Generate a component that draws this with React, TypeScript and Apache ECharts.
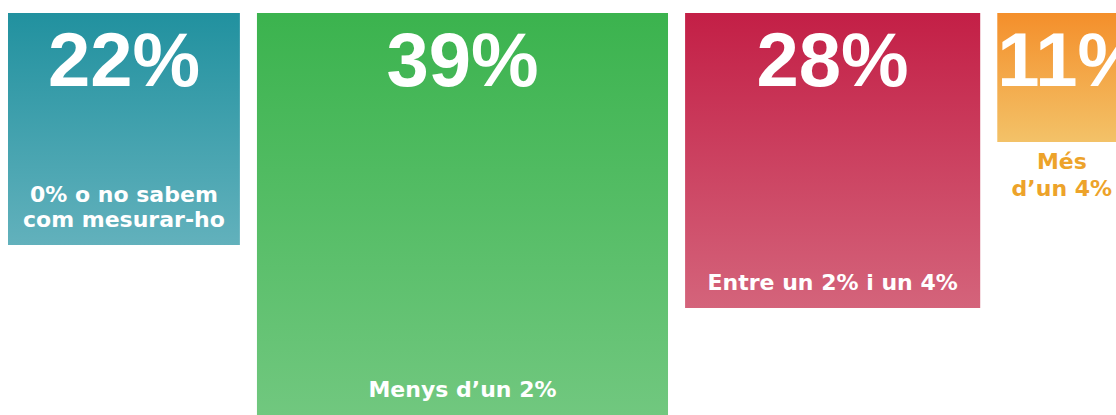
import React, { useEffect, useRef } from "react";
import * as echarts from "echarts";

const categories = ["0% o no sabem\ncom mesurar-ho", "Menys d’un 2%", "Entre un 2% i un 4%", "Més\nd’un 4%"];
const values = [22, 39, 28, 11];
const valueLabels = ["22%", "39%", "28%", "11%"];
const topColors = ["#21919f", "#3bb34e", "#c31f46", "#f48f2b"];
const bottomColors = ["#62b1bc", "#72c880", "#d4647b", "#f3c268"];
const outsideLabelColor = "#eda32a";

const GAP = 1.62; // gap between squares, in value units
const MIN_SIDE = 12.25; // smallest square that fits its label
const OUTSIDE_BELOW = 15; // squares smaller than this get their label below

export default function App() {
  const ref = useRef<HTMLDivElement>(null);
  useEffect(() => {
    document.body.style.margin = "0";
    const chart = echarts.init(ref.current!, null, { renderer: "svg" });
    let start = 0;
    const data = values.map((v, i) => {
      const side = Math.max(v, MIN_SIDE);
      const item = [start, side, i];
      start += side + GAP;
      return item;
    });
    const pxPerUnit = 10.54;
    chart.setOption({
      animation: false,
      grid: { left: 8, top: 13, right: 0, bottom: 0 },
      xAxis: { type: "value", min: 0, max: 1108 / pxPerUnit, show: false },
      yAxis: { type: "value", min: 0, max: 402 / pxPerUnit, inverse: true, show: false },
      series: [
        {
          type: "custom",
          data,
          clip: false,
          renderItem: (params: any, api: any) => {
            const x0 = api.value(0);
            const side = api.value(1);
            const i = api.value(2);
            const p = api.coord([x0, 0]);
            const s = api.size([side, side]);
            const w = s[0];
            const h = s[1];
            const cs = params.coordSys;
            const cx = p[0] + w / 2;
            const bottom = Math.min(p[1] + h, cs.y + cs.height);
            const inside = side >= OUTSIDE_BELOW;
            const labelFont = {
              fontFamily: "DejaVu Sans",
              fontWeight: "bold",
              fontSize: 22,
              lineHeight: 25,
            };
            return {
              type: "group",
              children: [
                {
                  type: "rect",
                  shape: { x: p[0], y: p[1], width: w, height: h },
                  style: {
                    fill: new echarts.graphic.LinearGradient(0, 0, 0, 1, [
                      { offset: 0, color: topColors[i] },
                      { offset: 1, color: bottomColors[i] },
                    ]),
                  },
                },
                {
                  type: "text",
                  style: {
                    text: valueLabels[i],
                    x: inside ? cx : p[0],
                    y: p[1] + 8,
                    align: inside ? "center" : "left",
                    verticalAlign: "top",
                    fill: "#ffffff",
                    fontFamily: "Liberation Sans",
                    fontWeight: "bold",
                    fontSize: 76,
                  },
                },
                {
                  type: "text",
                  style: inside
                    ? {
                        text: categories[i],
                        x: cx,
                        y: bottom - 13,
                        align: "center",
                        verticalAlign: "bottom",
                        fill: "#ffffff",
                        ...labelFont,
                      }
                    : {
                        text: categories[i],
                        x: cx,
                        y: p[1] + h + 6,
                        align: "center",
                        verticalAlign: "top",
                        fill: outsideLabelColor,
                        ...labelFont,
                        lineHeight: 27,
                      },
                },
              ],
            };
          },
        },
      ],
    });
    return () => chart.dispose();
  }, []);
  return <div ref={ref} style={{ width: 1116, height: 415 }} />;
}
